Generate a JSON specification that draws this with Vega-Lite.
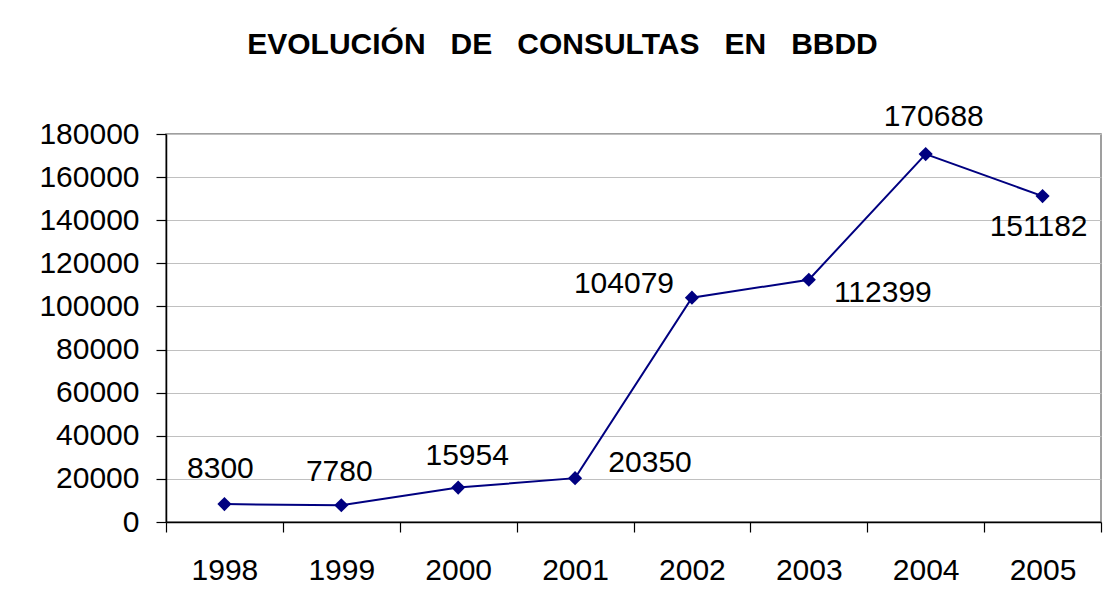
{
  "$schema": "https://vega.github.io/schema/vega-lite/v6.json",
  "autosize": {"type": "none"},
  "padding": {"left": 166, "top": 134, "right": 11, "bottom": 87},
  "width": 935,
  "height": 388,
  "background": "white",
  "title": {
    "text": "EVOLUCIÓN\u00a0\u00a0 DE\u00a0\u00a0 CONSULTAS\u00a0\u00a0 EN\u00a0\u00a0 BBDD",
    "font": "Liberation Sans",
    "fontSize": 30,
    "fontWeight": "bold",
    "color": "black",
    "anchor": "middle",
    "frame": "group",
    "dx": -71,
    "baseline": "alphabetic",
    "offset": 18,
    "limit": 0
  },
  "config": {
    "font": "Liberation Sans",
    "view": {"stroke": "#808080", "strokeWidth": 1.5},
    "axis": {
      "labelFont": "Liberation Sans",
      "labelFontSize": 30,
      "labelColor": "black",
      "domainColor": "black",
      "domainWidth": 1.5,
      "tickColor": "black",
      "tickWidth": 1.2,
      "tickSize": 10,
      "title": null
    }
  },
  "data": {
    "values": [
      {"year": "1998", "consultas": 8300},
      {"year": "1999", "consultas": 7780},
      {"year": "2000", "consultas": 15954},
      {"year": "2001", "consultas": 20350},
      {"year": "2002", "consultas": 104079},
      {"year": "2003", "consultas": 112399},
      {"year": "2004", "consultas": 170688},
      {"year": "2005", "consultas": 151182}
    ]
  },
  "encoding": {
    "x": {
      "field": "year",
      "type": "ordinal",
      "scale": {"type": "band", "paddingInner": 0, "paddingOuter": 0},
      "axis": {
        "labelAngle": 0,
        "tickBand": "extent",
        "grid": false,
        "labelPadding": 23,
        "labelBaseline": "top"
      }
    },
    "y": {
      "field": "consultas",
      "type": "quantitative",
      "scale": {"domain": [0, 180000], "nice": false},
      "axis": {
        "values": [0, 20000, 40000, 60000, 80000, 100000, 120000, 140000, 160000, 180000],
        "format": "d",
        "labelPadding": 17,
        "grid": true,
        "gridColor": "#c0c0c0",
        "gridWidth": 1
      }
    }
  },
  "layer": [
    {"mark": {"type": "line", "color": "#000080", "strokeWidth": 2}},
    {"mark": {"type": "point", "shape": "diamond", "filled": true, "color": "#000080", "size": 200, "opacity": 1}},
    {"transform": [{"filter": "datum.year == '1998'"}], "mark": {"type": "text", "fontSize": 30, "color": "black", "align": "center", "baseline": "alphabetic", "dx": -4, "dy": -26}, "encoding": {"text": {"field": "consultas"}}},
    {"transform": [{"filter": "datum.year == '1999'"}], "mark": {"type": "text", "fontSize": 30, "color": "black", "align": "center", "baseline": "alphabetic", "dx": -2, "dy": -24}, "encoding": {"text": {"field": "consultas"}}},
    {"transform": [{"filter": "datum.year == '2000'"}], "mark": {"type": "text", "fontSize": 30, "color": "black", "align": "center", "baseline": "alphabetic", "dx": 9, "dy": -23}, "encoding": {"text": {"field": "consultas"}}},
    {"transform": [{"filter": "datum.year == '2001'"}], "mark": {"type": "text", "fontSize": 30, "color": "black", "align": "center", "baseline": "alphabetic", "dx": 75, "dy": -6}, "encoding": {"text": {"field": "consultas"}}},
    {"transform": [{"filter": "datum.year == '2002'"}], "mark": {"type": "text", "fontSize": 30, "color": "black", "align": "center", "baseline": "alphabetic", "dx": -68, "dy": -5}, "encoding": {"text": {"field": "consultas"}}},
    {"transform": [{"filter": "datum.year == '2003'"}], "mark": {"type": "text", "fontSize": 30, "color": "black", "align": "center", "baseline": "alphabetic", "dx": 74, "dy": 22}, "encoding": {"text": {"field": "consultas"}}},
    {"transform": [{"filter": "datum.year == '2004'"}], "mark": {"type": "text", "fontSize": 30, "color": "black", "align": "center", "baseline": "alphabetic", "dx": 8, "dy": -28}, "encoding": {"text": {"field": "consultas"}}},
    {"transform": [{"filter": "datum.year == '2005'"}], "mark": {"type": "text", "fontSize": 30, "color": "black", "align": "center", "baseline": "alphabetic", "dx": -4, "dy": 40}, "encoding": {"text": {"field": "consultas"}}}
  ]
}
